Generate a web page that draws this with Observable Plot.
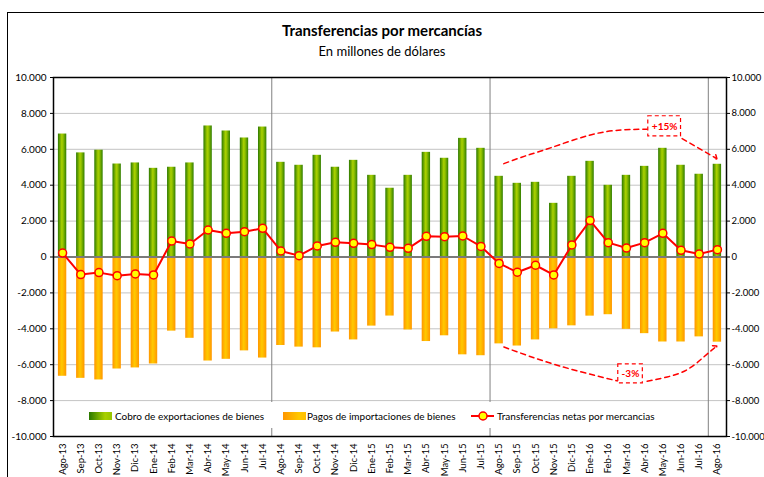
<!DOCTYPE html>
<html>
<head>
<meta charset="utf-8">
<script src="https://cdn.jsdelivr.net/npm/d3@7"></script>
<script src="https://cdn.jsdelivr.net/npm/@observablehq/plot@0.6"></script>
<style>
  html, body { margin: 0; padding: 0; background: #fff; overflow: hidden; }
  body { font-family: Lato, "Open Sans", sans-serif; }
  #wrap { position: relative; width: 764px; height: 477px; }
  #frame { position: absolute; left: 7px; top: 12px; width: 800px; height: 520px; border: 1px solid #000; box-sizing: border-box; }
  #head { position: relative; height: 60px; text-align: center; }
  #title { position: absolute; left: 0; right: 0; top: 21px; font-size: 15px; font-weight: bold; color: #000; }
  #subtitle { position: absolute; left: 0; right: 0; top: 43px; font-size: 13px; color: #000; }
  #legend { position: absolute; left: 60px; top: 402px; width: 640px; height: 26px; background: #fff; }
  .lg { position: absolute; font-size: 10px; color: #000; top: 8px; white-space: nowrap; }
  .sw { position: absolute; top: 10px; width: 23px; height: 8px; }
</style>
</head>
<body>
<div id="wrap">
  <div id="frame"></div>
  <div id="head">
    <div id="title">Transferencias por mercancías</div>
    <div id="subtitle">En millones de dólares</div>
  </div>
  <div id="chart"></div>
  <div id="legend"></div>
</div>
<script>
const months = ["Ago-13","Sep-13","Oct-13","Nov-13","Dic-13","Ene-14","Feb-14","Mar-14","Abr-14","May-14","Jun-14","Jul-14",
  "Ago-14","Sep-14","Oct-14","Nov-14","Dic-14","Ene-15","Feb-15","Mar-15","Abr-15","May-15","Jun-15","Jul-15",
  "Ago-15","Sep-15","Oct-15","Nov-15","Dic-15","Ene-16","Feb-16","Mar-16","Abr-16","May-16","Jun-16","Jul-16","Ago-16"];
const exportsV = [6850,5800,5950,5180,5240,4940,5000,5240,7300,7020,6630,7240,
  5275,5110,5665,5000,5385,4550,3830,4550,5830,5500,6610,6055,
  4495,4105,4160,2990,4495,5330,3995,4550,5050,6055,5110,4610,5165];
const importsV = [-6645,-6760,-6850,-6240,-6180,-5960,-4130,-4530,-5795,-5700,-5230,-5630,
  -4930,-5020,-5060,-4180,-4620,-3850,-3290,-4065,-4710,-4390,-5450,-5500,
  -4840,-4960,-4620,-4000,-3835,-3295,-3215,-4030,-4270,-4735,-4735,-4450,-4745];
const netV = [220,-980,-870,-1040,-945,-1000,890,725,1505,1320,1410,1600,
  335,75,615,820,765,690,540,485,1150,1135,1170,590,
  -360,-850,-460,-1000,670,2030,800,500,800,1320,375,170,410];
const yTicks = [-10000,-8000,-6000,-4000,-2000,0,2000,4000,6000,8000,10000];
const gridTicks = [-8000,-6000,-4000,-2000,2000,4000,6000,8000];
const yearBreaks = [11.5, 23.5, 35.5];

// annotations (data units: month index, millions)
const upCurve = [[24.26,5200],[25.5,5650],[26.82,6080],[29.02,6800],[30.8,7080],[32.14,7115]];
const upArrow = [[34.06,6595],[35.9,5515]];
const upBox = {x1: 32.2, x2: 34.0, y1: 6720, y2: 7840, label: "+15%", cx: 33.1, cy: 7280};
const lowCurve = [[24.26,-5015],[27.19,-6030],[30.58,-6925]];
const lowArrow = [[32.14,-6925],[33.24,-6685],[34.34,-6275],[35.25,-5570],[35.9,-5015]];
const lowBox = {x1: 30.55, x2: 31.9, y1: -7040, y2: -5980, label: "-3%", cx: 31.22, cy: -6510};

const data = months.map((m, i) => ({i, m, exp: exportsV[i], imp: importsV[i], net: netV[i]}));
const bh = 0.23;
const fmt = v => d3.format(",")(v).replace(/,/g, ".").replace("\u2212", "-");
const red = "#ff0000";

const svg = Plot.plot({
  width: 764,
  height: 417,
  marginTop: 17,
  marginBottom: 41,
  marginLeft: 53,
  marginRight: 38,
  style: {fontFamily: "Lato, 'Open Sans', sans-serif", fontSize: "10px", color: "#000", background: "transparent"},
  x: {type: "linear", domain: [-0.5, 36.5]},
  y: {domain: [-10000, 10000]},
  marks: [
    Plot.ruleY(gridTicks, {stroke: "#c4c4c4", strokeWidth: 1}),
    Plot.ruleX(yearBreaks, {stroke: "#808080", strokeWidth: 1}),
    Plot.rectY(data, {x1: d => d.i - bh, x2: d => d.i + bh, y: "exp", fill: "url(#gGreen)"}),
    Plot.rectY(data, {x1: d => d.i - bh, x2: d => d.i + bh, y: "imp", fill: "url(#gOrange)"}),
    Plot.ruleY([0], {stroke: "#7a7a7a", strokeWidth: 2}),
    Plot.line(data, {x: "i", y: "net", stroke: red, strokeWidth: 2}),
    Plot.dot(data, {x: "i", y: "net", r: 4, fill: "#ffff00", stroke: red, strokeWidth: 1.5}),
    // annotations
    Plot.line(upCurve, {x: d => d[0], y: d => d[1], curve: "natural", stroke: red, strokeWidth: 1.5, strokeDasharray: "5,4"}),
    Plot.line(upArrow, {x: d => d[0], y: d => d[1], stroke: red, strokeWidth: 1.5, strokeDasharray: "5,4", markerEnd: "arrow"}),
    Plot.line(lowCurve, {x: d => d[0], y: d => d[1], curve: "natural", stroke: red, strokeWidth: 1.5, strokeDasharray: "5,4"}),
    Plot.line(lowArrow, {x: d => d[0], y: d => d[1], curve: "natural", stroke: red, strokeWidth: 1.5, strokeDasharray: "5,4", markerEnd: "arrow"}),
    Plot.rect([upBox, lowBox], {x1: "x1", x2: "x2", y1: "y1", y2: "y2", fill: "#fff", stroke: red, strokeWidth: 1.2, strokeDasharray: "4,3"}),
    Plot.text([upBox, lowBox], {x: "cx", y: "cy", text: "label", fill: red, fontWeight: "bold", fontSize: 10}),
    // axes
    Plot.axisY({anchor: "left", ticks: yTicks, tickFormat: fmt, tickSize: 3, tickPadding: 4, label: null, fontSize: 10}),
    Plot.axisY({anchor: "right", ticks: yTicks, tickFormat: fmt, tickSize: 3, tickPadding: 2, label: null, fontSize: 9.5}),
    Plot.axisX({ticks: data.map(d => d.i), tickFormat: i => months[i], tickRotate: -90, tickSize: 0, tickPadding: 7, label: null, fontSize: 9.5}),
    Plot.frame({stroke: "#000", strokeWidth: 1.5})
  ]
});

svg.insertAdjacentHTML("afterbegin", `<defs>
  <linearGradient id="gGreen" x1="0" x2="1" y1="0" y2="0">
    <stop offset="0" stop-color="#2a7800"/>
    <stop offset="0.45" stop-color="#a8d000"/>
    <stop offset="0.6" stop-color="#96c400"/>
    <stop offset="1" stop-color="#2f7d00"/>
  </linearGradient>
  <linearGradient id="gOrange" x1="0" x2="1" y1="0" y2="0">
    <stop offset="0" stop-color="#ff9600"/>
    <stop offset="0.45" stop-color="#ffc800"/>
    <stop offset="0.6" stop-color="#ffbe00"/>
    <stop offset="1" stop-color="#ff9600"/>
  </linearGradient>
</defs>`);
document.getElementById("chart").appendChild(svg);

// legend
const legend = document.getElementById("legend");
const L = 60;
legend.innerHTML = `
  <div class="sw" style="left:${89 - L}px;background:linear-gradient(to right,#2a7800,#a8d000 70%,#96c400)"></div>
  <div class="lg" style="left:${115 - L}px">Cobro de exportaciones de bienes</div>
  <div class="sw" style="left:${283 - L}px;background:linear-gradient(to right,#ff9600,#ffc800 70%,#ffbe00)"></div>
  <div class="lg" style="left:${307 - L}px">Pagos de importaciones de bienes</div>
  <svg style="position:absolute;left:${471 - L}px;top:8px" width="24" height="12">
    <line x1="0" x2="23" y1="6" y2="6" stroke="#ff0000" stroke-width="2"/>
    <circle cx="12" cy="6" r="4" fill="#ffff00" stroke="#ff0000" stroke-width="1.5"/>
  </svg>
  <div class="lg" style="left:${497 - L}px">Transferencias netas por mercancias</div>`;
</script>
</body>
</html>
